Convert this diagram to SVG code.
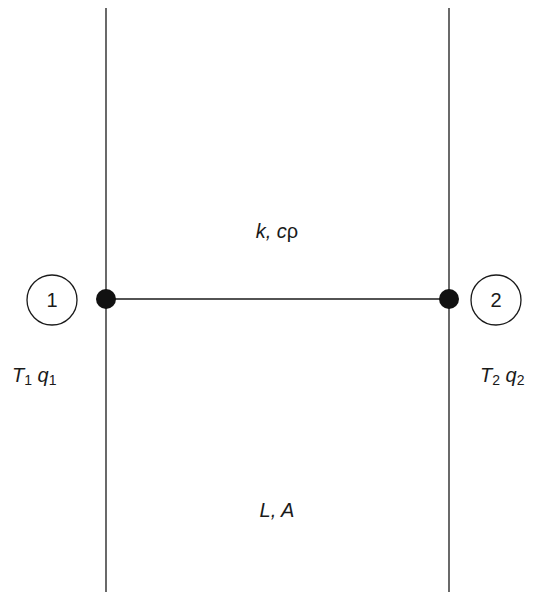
<svg xmlns="http://www.w3.org/2000/svg" width="540" height="592" viewBox="0 0 540 592">
<style>
.ln{stroke:#1a1a1a;stroke-width:1.3;fill:none}
.dot{fill:#111}
.nc{fill:#fff;stroke:#1a1a1a;stroke-width:1.3}
text{font-family:"Liberation Sans",Arial,sans-serif;fill:#1a1a1a}
.lb{font-size:20px;font-style:italic}
.num{font-size:20px;text-anchor:middle}
.sub{font-size:14px;font-style:normal}
</style>
<rect width="540" height="592" fill="#fff"/>
<g id="connectors">
<line class="ln" x1="106" y1="8" x2="106" y2="592"/>
<line class="ln" x1="449" y1="8" x2="449" y2="592"/>
<line class="ln" x1="106" y1="299" x2="449" y2="299"/>
</g>
<g id="node1">
<circle class="dot" cx="106" cy="299" r="10"/>
<circle class="nc" cx="52" cy="300" r="25"/>
<text class="num" x="52" y="307">1</text>
<text class="lb" x="12" y="382">T<tspan class="sub" dy="3">1</tspan><tspan dy="-3"> q</tspan><tspan class="sub" dy="3">1</tspan></text>
</g>
<g id="node2">
<circle class="dot" cx="449" cy="299" r="10"/>
<circle class="nc" cx="496" cy="300" r="25"/>
<text class="num" x="496" y="307">2</text>
<text class="lb" x="480" y="382">T<tspan class="sub" dy="3">2</tspan><tspan dy="-3"> q</tspan><tspan class="sub" dy="3">2</tspan></text>
</g>
<g id="labels">
<text class="lb" x="277" y="238" text-anchor="middle">k, <tspan>c</tspan><tspan font-style="normal">ρ</tspan></text>
<text class="lb" x="277" y="517" text-anchor="middle">L, A</text>
</g>
</svg>
